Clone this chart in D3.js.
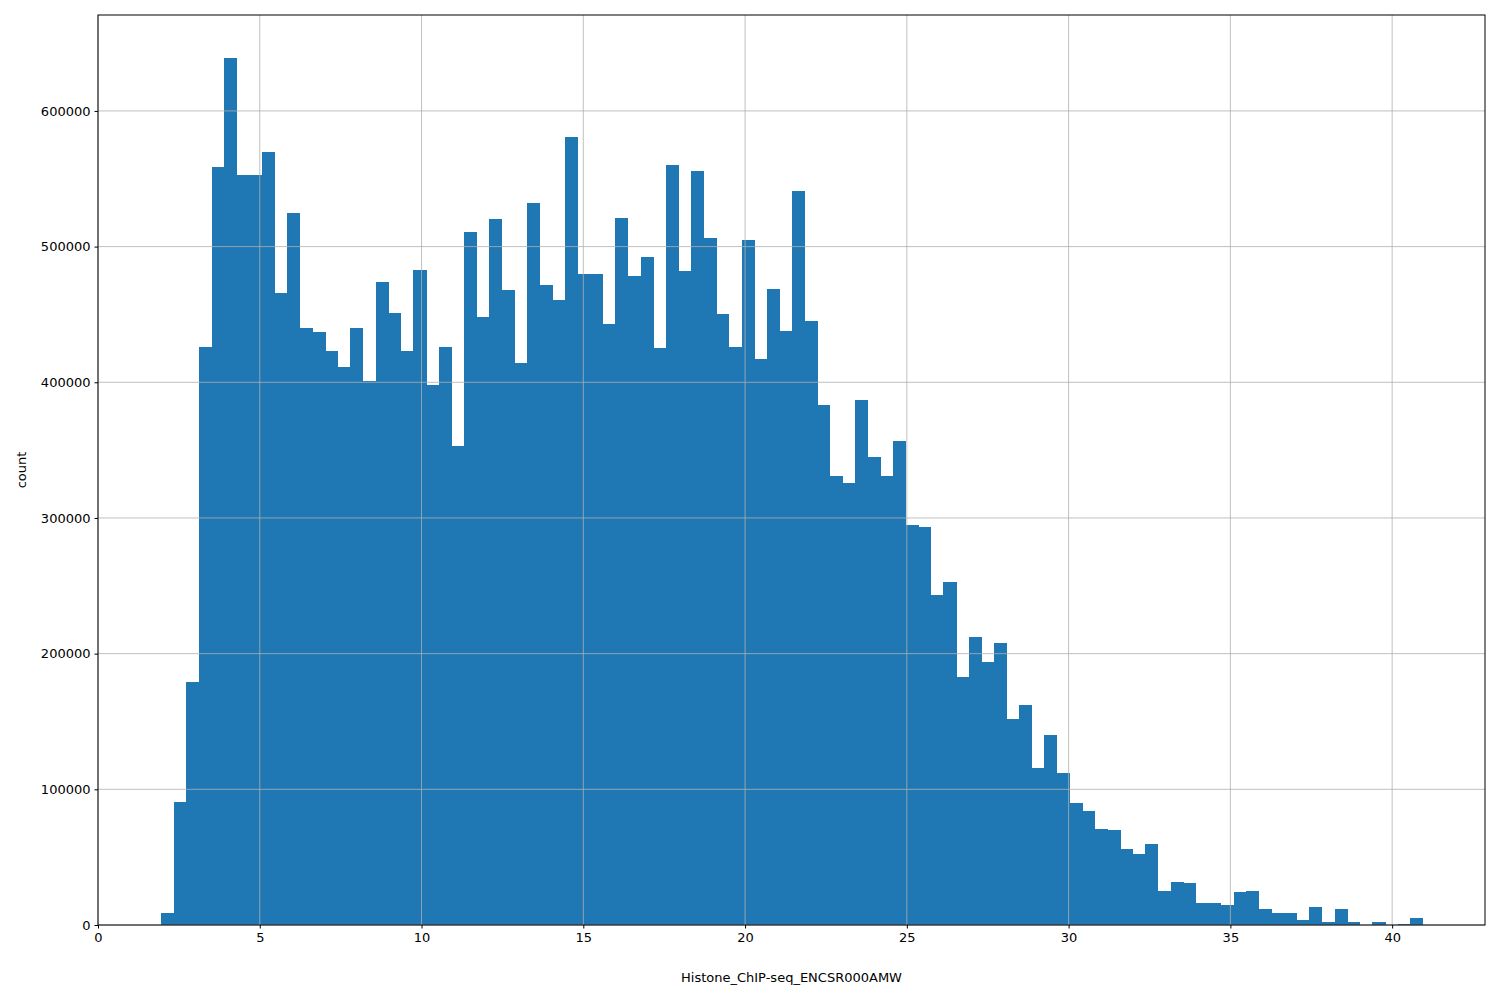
<!DOCTYPE html>
<html><head><meta charset="utf-8">
<script src="https://cdn.jsdelivr.net/npm/d3@7"></script>
<style>body{margin:0;background:#fff}svg{font-family:"DejaVu Sans",sans-serif}</style>
</head><body><svg id="c" width="1500" height="1000"></svg>
<script>
const binStart = 1.95;
const binWidth = 0.39;
const counts = [9000,91000,179000,426000,559000,639000,553000,553000,570000,466000,
525000,440000,437000,423000,411000,440000,401000,474000,451000,423000,
483000,398000,426000,353000,511000,448000,520000,468000,414000,532000,
472000,461000,581000,480000,480000,443000,521000,478000,492000,425000,
560000,482000,556000,506000,450000,426000,505000,417000,469000,438000,
541000,445000,383000,331000,326000,387000,345000,331000,357000,295000,
293000,243000,253000,183000,212000,194000,208000,152000,162000,116000,
140000,112000,90000,84000,71000,70000,56000,52000,60000,25000,
32000,31000,16000,16000,15000,24000,25000,12000,9000,9000,
4000,13000,2000,12000,2000,0,2500,0,500,5000];
const xTicks = [0,5,10,15,20,25,30,35,40];
const yTicks = [0,100000,200000,300000,400000,500000,600000];
const xLabel = "Histone_ChIP-seq_ENCSR000AMW";
const yLabel = "count";

const L=98,R=1485,T=15,B=925;
const svg=d3.select("#c");
const x=d3.scaleLinear().domain([0,42.87]).range([L,R]);
const y=d3.scaleLinear().domain([0,670700]).range([B,T]);

svg.append("g").attr("shape-rendering","crispEdges").selectAll("rect").data(counts).join("rect")
 .attr("x",(d,i)=>x(binStart+i*binWidth))
 .attr("width",(d,i)=>x(binStart+(i+1)*binWidth)-x(binStart+i*binWidth)+0.5)
 .attr("y",d=>y(d)).attr("height",d=>B-y(d)).attr("fill","#1f77b4");

const g=svg.append("g").attr("stroke","#b0b0b0").attr("stroke-width",0.8);
xTicks.forEach(t=>g.append("line").attr("x1",x(t)).attr("x2",x(t)).attr("y1",T).attr("y2",B));
yTicks.forEach(t=>g.append("line").attr("x1",L).attr("x2",R).attr("y1",y(t)).attr("y2",y(t)));

const xa=svg.append("g").attr("transform",`translate(0,${B})`)
 .call(d3.axisBottom(x).tickValues(xTicks).tickSize(3.5).tickPadding(4).tickFormat(d3.format("d")));
const ya=svg.append("g").attr("transform",`translate(${L},0)`)
 .call(d3.axisLeft(y).tickValues(yTicks).tickSize(3.5).tickPadding(4).tickFormat(d3.format("d")));
[xa,ya].forEach(a=>{a.select(".domain").remove();a.selectAll("text").attr("font-size",13).attr("fill","#000").attr("font-family","DejaVu Sans");});
svg.append("rect").attr("x",L).attr("y",T).attr("width",R-L).attr("height",B-T).attr("fill","none").attr("stroke","#000").attr("stroke-width",1);
svg.append("text").attr("x",(L+R)/2).attr("y",982).attr("text-anchor","middle").attr("font-size",13).text(xLabel);
svg.append("text").attr("transform",`translate(26,${(T+B)/2}) rotate(-90)`).attr("text-anchor","middle").attr("font-size",13).text(yLabel);
</script></body></html>
